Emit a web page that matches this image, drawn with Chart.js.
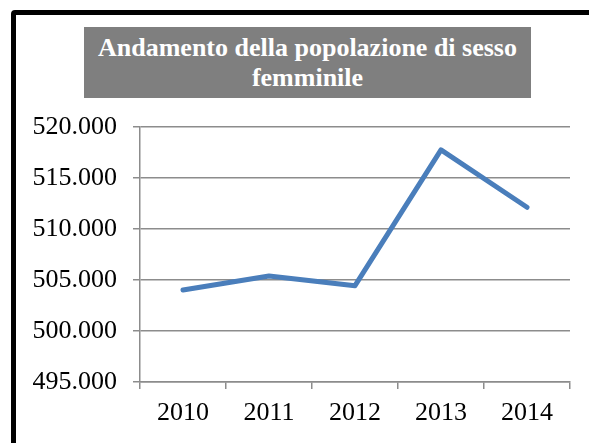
<!DOCTYPE html>
<html>
<head>
<meta charset="utf-8">
<script src="https://cdn.jsdelivr.net/npm/chart.js@4"></script>
<style>
  html, body { margin: 0; padding: 0; background: #ffffff; width: 589px; height: 443px; overflow: hidden; }
  #frame { position: absolute; left: 11px; top: 10px; width: 700px; height: 600px; border: 5px solid #000; border-radius: 4px; box-sizing: border-box; }
  #title { position: absolute; left: 84px; top: 27px; width: 447px; height: 71px; background: #7f7f7f; color: #fff;
           font-family: "Liberation Serif", serif; font-weight: bold; font-size: 26px; line-height: 30px; text-align: center;
           box-sizing: border-box; padding-top: 6px; z-index: 2; }
  #c { position: absolute; left: 0; top: 0; z-index: 1; }
</style>
</head>
<body>
<div id="frame"></div>
<canvas id="c" width="589" height="443"></canvas>
<div id="title">Andamento della popolazione di sesso<br>femminile</div>
<script>
const titleText = "Andamento della popolazione di sesso femminile";
const categories = ["2010", "2011", "2012", "2013", "2014"];
const femalePopulation = [504020, 505390, 504440, 517750, 512130];
const yTickValues = [495000, 500000, 505000, 510000, 515000, 520000];

function fmtIt(v) {
  return Math.round(v).toString().replace(/\B(?=(\d{3})+(?!\d))/g, '.');
}

const gridColor = '#8c8c8c';
const serif = "'Liberation Serif', serif";

new Chart(document.getElementById('c'), {
  type: 'line',
  data: {
    labels: categories,
    datasets: [{
      label: titleText,
      data: femalePopulation,
      borderColor: '#4a7ebb',
      borderWidth: 5,
      pointRadius: 0,
      tension: 0,
      borderCapStyle: 'round',
      borderJoinStyle: 'round',
      fill: false
    }]
  },
  options: {
    responsive: false,
    animation: false,
    devicePixelRatio: 1,
    layout: { padding: { left: 0, top: 127, right: 19, bottom: 0 } },
    plugins: { legend: { display: false }, title: { display: false }, tooltip: { enabled: false } },
    scales: {
      x: {
        offset: true,
        grid: { offset: true, drawOnChartArea: false, drawTicks: true, tickLength: 7, color: gridColor, lineWidth: 1.5 },
        border: { display: true, color: gridColor, width: 1.5 },
        ticks: { color: '#000', font: { family: serif, size: 26 }, padding: 9, maxRotation: 0, autoSkip: false },
        afterFit: s => { s.height = 61; }
      },
      y: {
        min: yTickValues[0],
        max: yTickValues[yTickValues.length - 1],
        afterBuildTicks: s => { s.ticks = yTickValues.map(v => ({ value: v })); },
        grid: { drawTicks: true, tickLength: 7, color: gridColor, lineWidth: 1.5 },
        border: { display: true, color: gridColor, width: 1.5 },
        ticks: { color: '#000', font: { family: serif, size: 26 }, padding: 16, callback: v => fmtIt(v) },
        afterFit: s => { s.width = 140; }
      }
    }
  }
});
</script>
</body>
</html>
